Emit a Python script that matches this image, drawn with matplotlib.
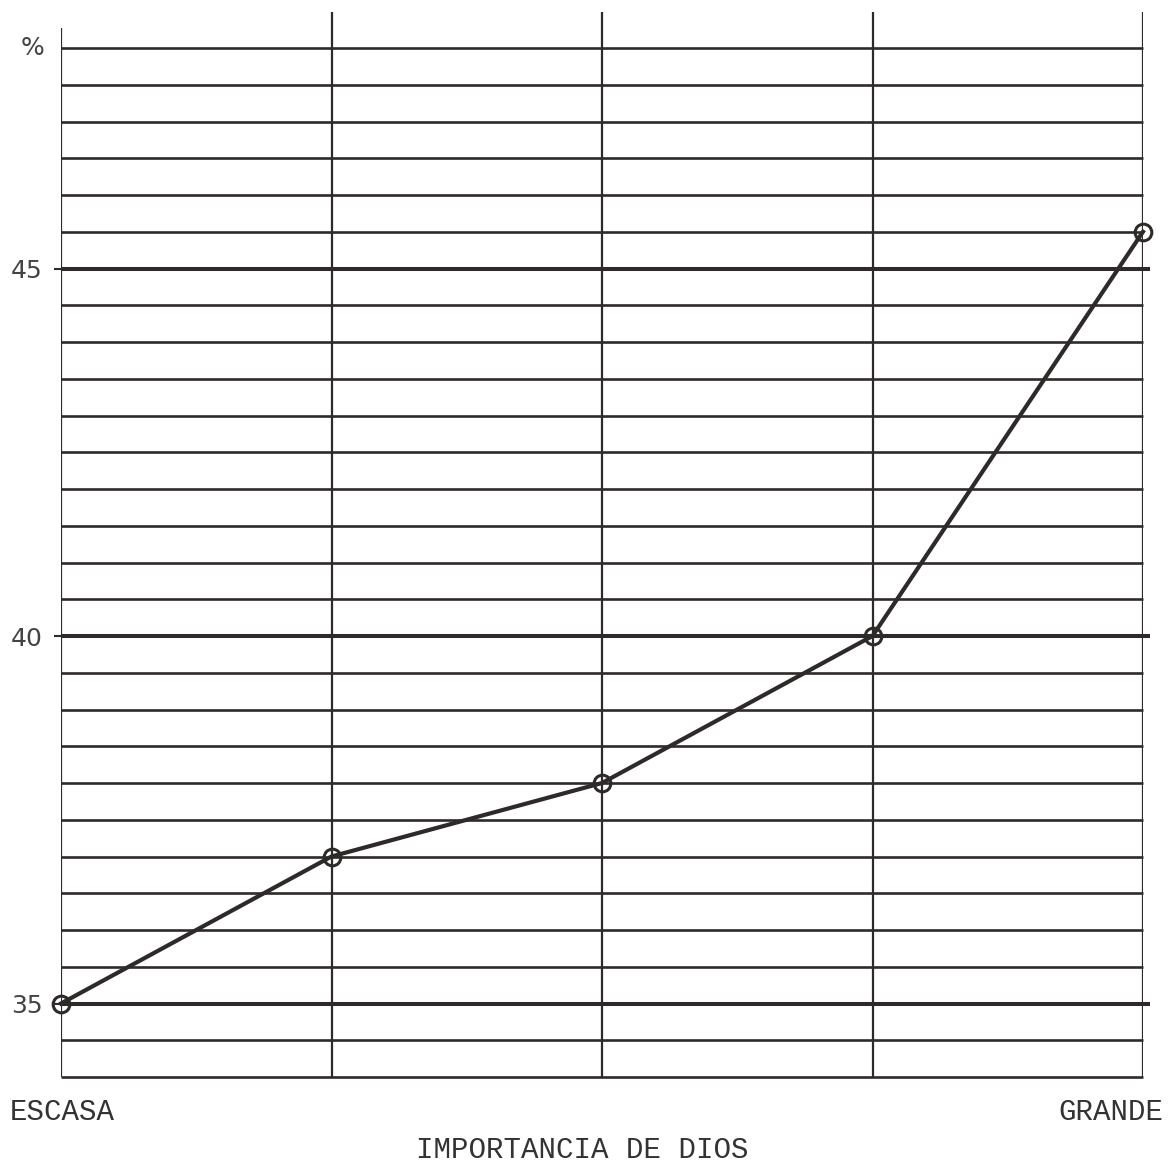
import matplotlib
matplotlib.use("Agg")
from matplotlib import pyplot as plt
import numpy as np

# data
niveles = ["ESCASA", "", "", "", "GRANDE"]
porcentaje = [35.0, 37.0, 38.0, 40.0, 45.5]
y_ticks = [35, 40, 45]
y_min, y_max = 34.0, 48.0

ink = "#2f2a2a"
mono = ["Liberation Mono", "DejaVu Sans Mono"]

fig = plt.figure(figsize=(11.70, 11.67), dpi=100)
ax = fig.add_axes([61 / 1170, 90 / 1167, (1143 - 61) / 1170, (1077 - 12) / 1167])

x = np.arange(len(niveles))
ax.set_xlim(x[0], x[-1])
ax.set_ylim(y_min, y_min + (y_max - y_min) * (1077 - 12) / (1077 - 48))

for s in ax.spines.values():
    s.set_visible(False)

# horizontal rules every half point, heavier at the labelled values
levels = np.arange(y_min, y_max + 0.01, 0.5)
for lv in levels:
    heavy = lv in y_ticks
    ax.hlines(lv, x[0], x[-1] + (0.025 if heavy else 0), color=ink,
              lw=2.9 if heavy else 1.9, clip_on=False, zorder=1)

# vertical rules at each category
tops = [y_max + 0.27] + [ax.get_ylim()[1]] * (len(x) - 1)
for xi, top in zip(x, tops):
    ax.vlines(xi, y_min, top, color=ink, lw=1.6, zorder=1)

ax.plot(x, porcentaje, color=ink, lw=3.0, marker="o", markersize=12,
        markerfacecolor="none", markeredgecolor=ink, markeredgewidth=2.2,
        clip_on=False, zorder=3)

ax.set_xticks([])
ax.set_yticks(y_ticks)
ax.set_yticklabels([str(t) for t in y_ticks], fontsize=18, color="#444444")
ax.tick_params(axis="y", length=5, width=1.5, color=ink, pad=8)
ax.text(-0.015, y_max, "%", transform=ax.get_yaxis_transform(), ha="right", va="center",
        fontsize=18, color="#444444")

fig.text(10 / 1170, 1 - 1112 / 1167, niveles[0], family=mono, fontsize=21, color="#333333",
         ha="left", va="center")
fig.text(1163 / 1170, 1 - 1112 / 1167, niveles[-1], family=mono, fontsize=21, color="#333333",
         ha="right", va="center")
fig.text(582 / 1170, 1 - 1150 / 1167, "IMPORTANCIA DE DIOS", family=mono, fontsize=21,
         color="#333333", ha="center", va="center")

fig.savefig("out.png", dpi=100, facecolor="white")
